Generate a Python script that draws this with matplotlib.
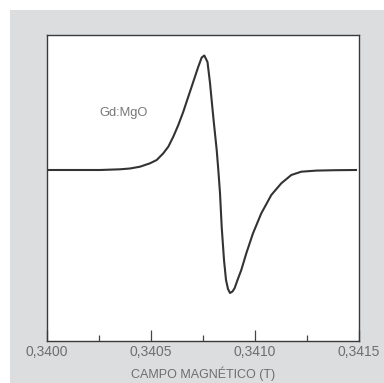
import matplotlib
matplotlib.use("Agg")
import matplotlib.pyplot as plt
from matplotlib.ticker import FuncFormatter, MultipleLocator

plt.rcParams['font.family'] = ['Liberation Sans', 'DejaVu Sans']

# Magnetic field (T)
field = [0.3400096, 0.3402548, 0.3403510, 0.3403990, 0.3404471, 0.3404952,
         0.3405274, 0.3405591, 0.3405832, 0.3406072, 0.3406313, 0.3406553,
         0.3406793, 0.3407034, 0.3407274, 0.3407438, 0.3407563, 0.3407716,
         0.3407837, 0.3407947, 0.3408043, 0.3408159, 0.3408236, 0.3408317,
         0.3408399, 0.3408510, 0.3408606, 0.3408702, 0.3408798, 0.3408918,
         0.3409024, 0.3409159, 0.3409341, 0.3409582, 0.3409904, 0.3410303,
         0.3410784, 0.3411264, 0.3411745, 0.3412226, 0.3412947, 0.3413846,
         0.3414856]
# EPR derivative signal (arbitrary units)
signal = [0, 0, 0.7, 1.5, 3.3, 6.7, 10, 16.7, 23.3, 33.3, 45, 58.3, 73.3,
          88.3, 103.3, 112.5, 114.5, 108, 87, 63, 43, 20, 0, -23, -57, -90,
          -110, -119, -123, -121.5, -118, -110, -100, -83.3, -63.3, -43.3,
          -25, -13.3, -5, -1.7, -0.6, -0.2, 0]

xlabel = "CAMPO MAGNÉTICO (T)"
sample_label = "Gd:MgO"

fig = plt.figure(figsize=(3.84, 3.83), dpi=100)
fig.patch.set_facecolor('white')
bg = fig.add_axes([10/384, 0, 1 - 10/384, 1 - 10/383], zorder=-10)
bg.set_facecolor('#dcdddf')
bg.set_xticks([]); bg.set_yticks([])
for s in bg.spines.values():
    s.set_visible(False)

ax = fig.add_axes([47/384, 42/383, 312/384, 306/383], zorder=1)
ax.set_facecolor('white')
ax.plot(field, signal, color='#333333', lw=1.5, solid_joinstyle='round')

ax.set_xlim(0.3400, 0.3415)
ax.set_ylim(-171, 135)
ax.set_yticks([])

ax.xaxis.set_major_locator(MultipleLocator(0.0005))
ax.xaxis.set_minor_locator(MultipleLocator(0.00025))
ax.xaxis.set_major_formatter(FuncFormatter(lambda v, p: f"{v:.4f}".replace('.', ',')))
ax.tick_params(axis='x', which='major', direction='in', length=7.7, width=0.9,
               color='#444444', labelsize=10, labelcolor='#6e6e6e', pad=3)
ax.tick_params(axis='x', which='minor', direction='in', length=4.2, width=0.9,
               color='#444444')

for s in ax.spines.values():
    s.set_color('#3a3a3a')
    s.set_linewidth(1.0)

ax.set_xlabel(xlabel, fontsize=9, color='#6e6e6e', labelpad=5)
ax.text(0.340370, 57, sample_label, fontsize=9.3, color='#777777',
        ha='center', va='center')

fig.savefig('out.png', dpi=100, facecolor=fig.get_facecolor())
